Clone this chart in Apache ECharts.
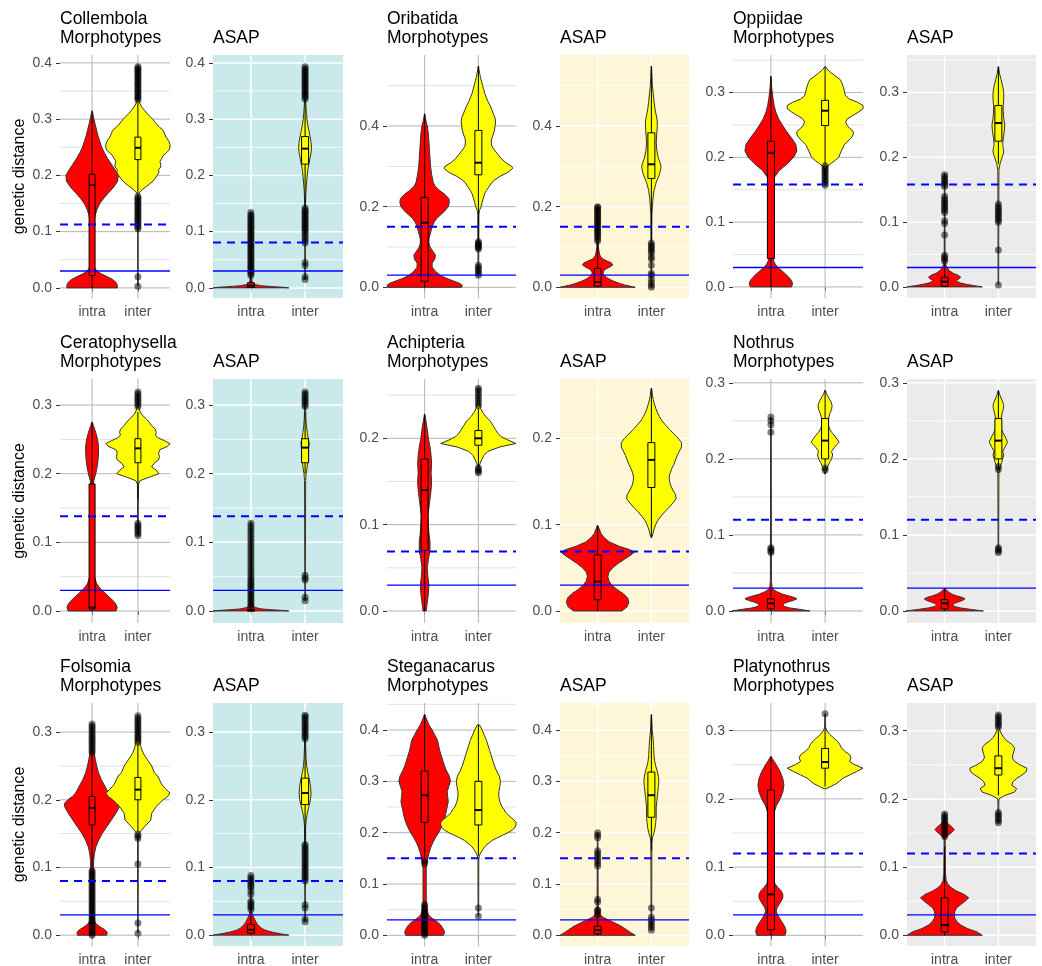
<!DOCTYPE html>
<html><head><meta charset="utf-8">
<script src="https://cdn.jsdelivr.net/npm/echarts@6/dist/echarts.min.js"></script>
<style>html,body{margin:0;padding:0;background:#fff}#c{width:1042px;height:966px}</style>
</head><body><div id="c"></div>
<script>
// ---------------- DATA ----------------
const groups = ['intra', 'inter'];
const taxa = ['Collembola','Oribatida','Oppiidae','Ceratophysella','Achipteria','Nothrus','Folsomia','Steganacarus','Platynothrus'];
const methods = ['Morphotypes', 'ASAP'];
const solidThreshold = 0.03;
// dashed threshold per panel (Morphotypes, ASAP) in taxa order
const dashedThresholds = [0.1125,0.0805, 0.15,0.15, 0.158,0.158, 0.138,0.138, 0.069,0.069, 0.12,0.12, 0.08,0.08, 0.15,0.15, 0.12,0.12];
// y tick labels per taxon
const ticksCollembola = [0,0.1,0.2,0.3,0.4];
const ticksOribatida = [0,0.2,0.4];
const ticksOppiidae = [0,0.1,0.2,0.3];
const ticksCeratophysella = [0,0.1,0.2,0.3];
const ticksAchipteria = [0,0.1,0.2];
const ticksNothrus = [0,0.1,0.2,0.3];
const ticksFolsomia = [0,0.1,0.2,0.3];
const ticksSteganacarus = [0,0.1,0.2,0.3,0.4];
const ticksPlatynothrus = [0,0.1,0.2,0.3];

// violin profiles: [genetic distance, half width in category units]
// box stats: [lower whisker, q1, median, q3, upper whisker]
// --- Collembola Morphotypes
const collMorphIntra = [[0,0.55],[0.005,0.55],[0.01,0.52],[0.015,0.45],[0.02,0.33],[0.025,0.2],[0.03,0.11],[0.035,0.06],[0.045,0.035],[0.06,0.03],[0.08,0.03],[0.1,0.035],[0.12,0.05],[0.13,0.07],[0.14,0.11],[0.15,0.17],[0.16,0.26],[0.17,0.37],[0.18,0.48],[0.19,0.56],[0.2,0.57],[0.21,0.5],[0.22,0.42],[0.23,0.34],[0.24,0.27],[0.25,0.21],[0.26,0.17],[0.27,0.13],[0.28,0.1],[0.29,0.07],[0.3,0.04],[0.31,0.015],[0.315,0.003]];
const collMorphInter = [[0.003,0.006],[0.165,0.006],[0.17,0.04],[0.175,0.1],[0.18,0.18],[0.185,0.26],[0.19,0.33],[0.195,0.38],[0.2,0.42],[0.205,0.46],[0.21,0.45],[0.215,0.5],[0.22,0.5],[0.225,0.48],[0.23,0.52],[0.235,0.55],[0.24,0.62],[0.245,0.68],[0.25,0.7],[0.255,0.7],[0.26,0.68],[0.265,0.64],[0.27,0.6],[0.275,0.58],[0.28,0.55],[0.285,0.48],[0.29,0.42],[0.295,0.37],[0.3,0.32],[0.305,0.26],[0.31,0.2],[0.315,0.15],[0.32,0.1],[0.325,0.06],[0.33,0.03],[0.335,0.01],[0.393,0.005]];
const collMorphBox = [[0,0.022,0.183,0.202,0.313],[0.168,0.228,0.249,0.268,0.328]];
const collMorphOutIntra = [];
const collMorphOutInter = [0.003,0.02,0.105,0.108,0.112,0.115,0.118,0.121,0.124,0.127,0.13,0.133,0.136,0.139,0.142,0.145,0.148,0.151,0.154,0.157,0.16,0.163,0.334,0.337,0.34,0.343,0.346,0.349,0.352,0.355,0.358,0.361,0.364,0.367,0.37,0.373,0.376,0.379,0.382,0.385,0.388,0.391,0.393];
// --- Collembola ASAP
const collAsapIntra = [[0,0.7],[0.001,0.6],[0.002,0.45],[0.003,0.3],[0.004,0.18],[0.006,0.08],[0.008,0.04],[0.012,0.02],[0.02,0.01],[0.135,0.005]];
const collAsapInter = [[0.015,0.006],[0.15,0.008],[0.17,0.015],[0.19,0.03],[0.21,0.05],[0.22,0.07],[0.23,0.09],[0.24,0.11],[0.25,0.12],[0.26,0.11],[0.27,0.09],[0.28,0.07],[0.29,0.05],[0.3,0.035],[0.31,0.025],[0.32,0.018],[0.33,0.012],[0.35,0.008],[0.393,0.005]];
const collAsapBox = [[0,0.001,0.004,0.009,0.02],[0.145,0.22,0.2475,0.269,0.333]];
const collAsapOutIntra = [0.022,0.025,0.028,0.031,0.034,0.037,0.04,0.043,0.046,0.049,0.052,0.055,0.058,0.061,0.064,0.067,0.07,0.073,0.076,0.079,0.082,0.085,0.088,0.091,0.094,0.097,0.1,0.103,0.106,0.109,0.112,0.115,0.118,0.121,0.124,0.127,0.13,0.134];
const collAsapOutInter = [0.015,0.02,0.04,0.045,0.08,0.084,0.088,0.092,0.096,0.1,0.103,0.106,0.109,0.112,0.115,0.118,0.121,0.124,0.127,0.13,0.133,0.136,0.139,0.142,0.336,0.339,0.342,0.345,0.348,0.351,0.354,0.357,0.36,0.363,0.366,0.369,0.372,0.375,0.378,0.381,0.384,0.387,0.39,0.393];
// --- Oribatida Morphotypes
const oribMorphIntra = [[0,0.69],[0.005,0.7],[0.01,0.65],[0.015,0.55],[0.02,0.45],[0.025,0.36],[0.03,0.29],[0.04,0.2],[0.05,0.14],[0.06,0.14],[0.07,0.19],[0.08,0.2],[0.09,0.15],[0.1,0.1],[0.11,0.08],[0.12,0.08],[0.13,0.1],[0.14,0.12],[0.15,0.14],[0.16,0.17],[0.17,0.22],[0.18,0.3],[0.19,0.38],[0.2,0.44],[0.21,0.46],[0.22,0.45],[0.23,0.38],[0.24,0.28],[0.25,0.2],[0.26,0.16],[0.28,0.13],[0.3,0.11],[0.34,0.09],[0.38,0.07],[0.4,0.05],[0.41,0.03],[0.42,0.015],[0.43,0.004]];
const oribMorphInter = [[0.03,0.006],[0.18,0.01],[0.19,0.02],[0.2,0.05],[0.21,0.07],[0.22,0.09],[0.233,0.12],[0.24,0.15],[0.25,0.2],[0.26,0.25],[0.266,0.3],[0.275,0.4],[0.285,0.55],[0.295,0.64],[0.3,0.62],[0.31,0.5],[0.32,0.42],[0.33,0.36],[0.34,0.3],[0.35,0.25],[0.36,0.24],[0.37,0.25],[0.38,0.28],[0.39,0.3],[0.4,0.31],[0.41,0.32],[0.42,0.31],[0.43,0.28],[0.44,0.25],[0.45,0.22],[0.46,0.18],[0.47,0.15],[0.48,0.12],[0.49,0.1],[0.5,0.08],[0.51,0.06],[0.52,0.04],[0.53,0.025],[0.54,0.012],[0.548,0.004]];
const oribMorphBox = [[0,0.015,0.16,0.223,0.43],[0.115,0.279,0.309,0.389,0.548]];
const oribMorphOutIntra = [];
const oribMorphOutInter = [0.03,0.035,0.04,0.045,0.05,0.055,0.095,0.098,0.101,0.104,0.107,0.11,0.113];
// --- Oribatida ASAP
const oribAsapIntra = [[0,0.7],[0.003,0.6],[0.006,0.5],[0.01,0.4],[0.015,0.3],[0.02,0.22],[0.025,0.16],[0.03,0.12],[0.035,0.1],[0.04,0.11],[0.045,0.15],[0.05,0.22],[0.055,0.28],[0.06,0.26],[0.065,0.18],[0.07,0.1],[0.075,0.06],[0.08,0.04],[0.09,0.025],[0.1,0.015],[0.12,0.01],[0.2,0.005]];
const oribAsapInter = [[0,0.005],[0.18,0.01],[0.2,0.02],[0.22,0.03],[0.24,0.05],[0.26,0.09],[0.27,0.12],[0.28,0.15],[0.29,0.17],[0.3,0.18],[0.31,0.16],[0.32,0.13],[0.34,0.1],[0.36,0.09],[0.38,0.1],[0.4,0.11],[0.41,0.11],[0.42,0.1],[0.44,0.07],[0.46,0.05],[0.48,0.035],[0.5,0.02],[0.52,0.012],[0.548,0.004]];
const oribAsapBox = [[0,0.003,0.013,0.047,0.11],[0.115,0.27,0.305,0.383,0.548]];
const oribAsapOutIntra = [0.115,0.12,0.125,0.13,0.134,0.138,0.142,0.146,0.15,0.154,0.158,0.162,0.166,0.17,0.174,0.178,0.182,0.186,0.19,0.194,0.198,0.2];
const oribAsapOutInter = [0,0.005,0.012,0.02,0.03,0.035,0.055,0.07,0.075,0.085,0.09,0.095,0.1,0.105,0.11];
// --- Oppiidae Morphotypes
const oppMorphIntra = [[0,0.38],[0.005,0.4],[0.01,0.38],[0.015,0.33],[0.02,0.27],[0.025,0.2],[0.03,0.13],[0.035,0.08],[0.04,0.05],[0.05,0.025],[0.07,0.015],[0.15,0.015],[0.16,0.03],[0.17,0.07],[0.18,0.16],[0.19,0.3],[0.2,0.42],[0.21,0.48],[0.22,0.46],[0.23,0.38],[0.24,0.29],[0.25,0.21],[0.26,0.14],[0.27,0.09],[0.28,0.06],[0.29,0.04],[0.3,0.025],[0.31,0.012],[0.325,0.004]];
const oppMorphInter = [[0.157,0.006],[0.18,0.01],[0.185,0.03],[0.19,0.1],[0.195,0.18],[0.2,0.25],[0.21,0.3],[0.22,0.36],[0.225,0.42],[0.23,0.48],[0.235,0.52],[0.24,0.52],[0.245,0.45],[0.25,0.4],[0.255,0.38],[0.26,0.42],[0.265,0.52],[0.27,0.62],[0.275,0.7],[0.28,0.7],[0.285,0.6],[0.29,0.45],[0.295,0.38],[0.3,0.36],[0.305,0.35],[0.31,0.33],[0.315,0.31],[0.32,0.28],[0.325,0.2],[0.33,0.12],[0.335,0.05],[0.34,0.005]];
const oppMorphBox = [[0,0.044,0.207,0.225,0.325],[0.19,0.249,0.272,0.288,0.34]];
const oppMorphOutIntra = [];
const oppMorphOutInter = [0.157,0.16,0.163,0.166,0.169,0.172,0.175,0.178,0.181,0.184,0.187];
// --- Oppiidae ASAP
const oppAsapIntra = [[0,0.7],[0.002,0.55],[0.004,0.4],[0.006,0.3],[0.008,0.24],[0.01,0.22],[0.012,0.26],[0.015,0.3],[0.018,0.25],[0.021,0.16],[0.025,0.09],[0.03,0.04],[0.035,0.02],[0.05,0.008],[0.175,0.005]];
const oppAsapInter = [[0.003,0.005],[0.18,0.01],[0.19,0.03],[0.2,0.07],[0.205,0.09],[0.21,0.1],[0.215,0.09],[0.22,0.08],[0.23,0.09],[0.24,0.11],[0.25,0.12],[0.26,0.1],[0.27,0.09],[0.28,0.09],[0.29,0.1],[0.3,0.1],[0.31,0.08],[0.32,0.05],[0.33,0.02],[0.34,0.004]];
const oppAsapBox = [[0,0.001,0.008,0.015,0.035],[0.19,0.225,0.253,0.28,0.34]];
const oppAsapOutIntra = [0.04,0.043,0.046,0.049,0.08,0.098,0.102,0.115,0.118,0.121,0.124,0.127,0.13,0.133,0.136,0.14,0.155,0.158,0.161,0.164,0.167,0.17,0.173];
const oppAsapOutInter = [0.003,0.057,0.1,0.103,0.106,0.109,0.112,0.115,0.118,0.121,0.124,0.128];
// --- Ceratophysella Morphotypes
const ceraMorphIntra = [[0,0.52],[0.005,0.55],[0.01,0.52],[0.015,0.46],[0.02,0.38],[0.025,0.3],[0.03,0.22],[0.035,0.15],[0.04,0.1],[0.05,0.05],[0.06,0.03],[0.08,0.025],[0.18,0.025],[0.19,0.04],[0.2,0.08],[0.21,0.11],[0.22,0.13],[0.23,0.14],[0.24,0.14],[0.25,0.12],[0.26,0.08],[0.27,0.03],[0.275,0.005]];
const ceraMorphInter = [[0.11,0.006],[0.185,0.01],[0.19,0.05],[0.195,0.25],[0.2,0.46],[0.205,0.4],[0.21,0.3],[0.215,0.35],[0.22,0.45],[0.225,0.47],[0.23,0.45],[0.235,0.48],[0.24,0.65],[0.244,0.7],[0.248,0.58],[0.252,0.45],[0.256,0.38],[0.26,0.4],[0.265,0.38],[0.27,0.3],[0.275,0.25],[0.28,0.18],[0.285,0.1],[0.29,0.05],[0.295,0.025],[0.3,0.012],[0.32,0.004]];
const ceraMorphBox = [[0,0.003,0.005,0.185,0.275],[0.163,0.216,0.237,0.251,0.29]];
const ceraMorphOutIntra = [];
const ceraMorphOutInter = [0.11,0.113,0.116,0.119,0.122,0.125,0.128,0.298,0.301,0.304,0.307,0.31,0.313,0.316,0.319];
// --- Ceratophysella ASAP
const ceraAsapIntra = [[0,0.7],[0.001,0.55],[0.002,0.35],[0.003,0.2],[0.005,0.08],[0.008,0.03],[0.012,0.015],[0.13,0.005]];
const ceraAsapInter = [[0.015,0.005],[0.19,0.01],[0.2,0.02],[0.21,0.04],[0.22,0.055],[0.23,0.06],[0.24,0.07],[0.245,0.075],[0.25,0.06],[0.26,0.04],[0.27,0.025],[0.28,0.015],[0.3,0.008],[0.32,0.004]];
const ceraAsapBox = [[0,0,0.001,0.002,0.005],[0.2,0.216,0.238,0.251,0.29]];
const ceraAsapOutIntra = [0.006,0.009,0.012,0.015,0.018,0.021,0.024,0.027,0.03,0.033,0.036,0.039,0.042,0.045,0.048,0.052,0.056,0.06,0.064,0.068,0.072,0.076,0.08,0.084,0.088,0.092,0.096,0.1,0.104,0.108,0.112,0.116,0.12,0.124,0.128];
const ceraAsapOutInter = [0.015,0.02,0.045,0.048,0.052,0.298,0.301,0.304,0.307,0.31,0.313,0.316,0.319];
// --- Achipteria Morphotypes
const achiMorphIntra = [[0,0.03],[0.005,0.04],[0.01,0.05],[0.02,0.07],[0.03,0.08],[0.04,0.06],[0.05,0.05],[0.06,0.07],[0.07,0.1],[0.08,0.1],[0.09,0.08],[0.1,0.07],[0.11,0.06],[0.12,0.08],[0.13,0.1],[0.14,0.12],[0.15,0.13],[0.16,0.12],[0.17,0.13],[0.18,0.12],[0.19,0.1],[0.2,0.07],[0.21,0.05],[0.22,0.025],[0.228,0.004]];
const achiMorphInter = [[0.16,0.006],[0.165,0.01],[0.17,0.025],[0.175,0.06],[0.18,0.1],[0.185,0.18],[0.19,0.4],[0.194,0.7],[0.198,0.55],[0.202,0.42],[0.206,0.36],[0.21,0.32],[0.215,0.27],[0.22,0.22],[0.225,0.14],[0.23,0.08],[0.235,0.04],[0.24,0.02],[0.258,0.005]];
const achiMorphBox = [[0,0.07,0.14,0.176,0.228],[0.168,0.192,0.2,0.209,0.235]];
const achiMorphOutIntra = [];
const achiMorphOutInter = [0.16,0.162,0.164,0.166,0.238,0.241,0.244,0.247,0.25,0.253,0.256,0.258];
// --- Achipteria ASAP
const achiAsapIntra = [[0,0.45],[0.005,0.55],[0.01,0.58],[0.015,0.56],[0.02,0.48],[0.025,0.36],[0.03,0.26],[0.035,0.21],[0.04,0.19],[0.045,0.21],[0.05,0.28],[0.055,0.38],[0.06,0.5],[0.065,0.62],[0.068,0.68],[0.071,0.6],[0.075,0.4],[0.08,0.22],[0.085,0.12],[0.09,0.06],[0.095,0.03],[0.099,0.005]];
const achiAsapInter = [[0.085,0.005],[0.09,0.03],[0.095,0.05],[0.1,0.08],[0.105,0.12],[0.11,0.18],[0.115,0.25],[0.12,0.33],[0.125,0.4],[0.13,0.46],[0.135,0.45],[0.14,0.4],[0.145,0.36],[0.15,0.34],[0.155,0.33],[0.16,0.35],[0.165,0.38],[0.17,0.42],[0.175,0.45],[0.18,0.48],[0.185,0.52],[0.19,0.56],[0.195,0.56],[0.2,0.5],[0.205,0.42],[0.21,0.34],[0.215,0.27],[0.22,0.2],[0.225,0.15],[0.23,0.11],[0.235,0.08],[0.24,0.055],[0.245,0.035],[0.25,0.02],[0.258,0.004]];
const achiAsapBox = [[0,0.013,0.034,0.065,0.099],[0.085,0.143,0.175,0.195,0.258]];
const achiAsapOutIntra = [];
const achiAsapOutInter = [];
// --- Nothrus Morphotypes
const nothMorphIntra = [[0,0.72],[0.002,0.55],[0.004,0.35],[0.006,0.25],[0.008,0.22],[0.01,0.25],[0.012,0.32],[0.014,0.42],[0.016,0.48],[0.018,0.42],[0.02,0.32],[0.022,0.22],[0.025,0.12],[0.028,0.05],[0.032,0.02],[0.04,0.01],[0.255,0.005]];
const nothMorphInter = [[0.18,0.006],[0.185,0.02],[0.19,0.05],[0.195,0.08],[0.2,0.12],[0.205,0.14],[0.21,0.12],[0.215,0.17],[0.222,0.26],[0.23,0.18],[0.235,0.12],[0.24,0.08],[0.245,0.06],[0.25,0.06],[0.255,0.07],[0.26,0.09],[0.265,0.12],[0.27,0.13],[0.275,0.11],[0.28,0.07],[0.285,0.03],[0.29,0.005]];
const nothMorphBox = [[0,0.003,0.01,0.016,0.03],[0.185,0.2,0.224,0.253,0.29]];
const nothMorphOutIntra = [0.077,0.079,0.081,0.083,0.235,0.245,0.25,0.255];
const nothMorphOutInter = [0.185,0.188];
// --- Nothrus ASAP
const nothAsapIntra = [[0,0.72],[0.002,0.5],[0.004,0.3],[0.006,0.18],[0.008,0.15],[0.01,0.18],[0.012,0.26],[0.014,0.34],[0.016,0.38],[0.018,0.32],[0.02,0.22],[0.022,0.14],[0.025,0.07],[0.028,0.03],[0.03,0.005]];
const nothAsapInter = [[0.077,0.005],[0.18,0.01],[0.19,0.03],[0.195,0.06],[0.2,0.08],[0.205,0.1],[0.21,0.08],[0.215,0.12],[0.222,0.17],[0.23,0.12],[0.235,0.08],[0.24,0.05],[0.245,0.04],[0.25,0.045],[0.26,0.07],[0.265,0.09],[0.27,0.1],[0.275,0.08],[0.28,0.05],[0.285,0.02],[0.29,0.004]];
const nothAsapBox = [[0,0.003,0.01,0.015,0.03],[0.185,0.2,0.224,0.253,0.29]];
const nothAsapOutIntra = [];
const nothAsapOutInter = [0.077,0.079,0.081,0.083,0.186,0.19];
// --- Folsomia Morphotypes
const folsMorphIntra = [[0,0.32],[0.004,0.33],[0.008,0.28],[0.012,0.18],[0.016,0.1],[0.02,0.06],[0.03,0.035],[0.05,0.03],[0.1,0.03],[0.11,0.035],[0.12,0.05],[0.13,0.08],[0.14,0.14],[0.15,0.22],[0.16,0.32],[0.17,0.42],[0.18,0.52],[0.19,0.6],[0.195,0.6],[0.2,0.53],[0.205,0.43],[0.21,0.36],[0.22,0.28],[0.23,0.2],[0.24,0.14],[0.25,0.1],[0.26,0.07],[0.268,0.05],[0.275,0.02],[0.313,0.004]];
const folsMorphInter = [[0.003,0.005],[0.14,0.008],[0.15,0.02],[0.155,0.08],[0.16,0.14],[0.17,0.28],[0.18,0.3],[0.19,0.4],[0.195,0.47],[0.2,0.55],[0.205,0.65],[0.21,0.7],[0.215,0.62],[0.22,0.55],[0.225,0.5],[0.23,0.47],[0.235,0.43],[0.24,0.36],[0.25,0.3],[0.26,0.2],[0.265,0.15],[0.27,0.11],[0.275,0.08],[0.28,0.06],[0.285,0.045],[0.29,0.03],[0.3,0.015],[0.325,0.004]];
const folsMorphBox = [[0.1,0.163,0.188,0.205,0.268],[0.152,0.2,0.215,0.233,0.283]];
const folsMorphOutIntra = [0,0.003,0.006,0.009,0.012,0.015,0.018,0.021,0.024,0.027,0.03,0.033,0.036,0.039,0.042,0.045,0.048,0.051,0.054,0.057,0.06,0.063,0.066,0.069,0.072,0.075,0.078,0.081,0.084,0.087,0.09,0.093,0.095,0.27,0.273,0.276,0.279,0.282,0.285,0.288,0.291,0.294,0.297,0.3,0.303,0.306,0.309,0.312];
const folsMorphOutInter = [0.003,0.018,0.105,0.143,0.146,0.149,0.285,0.288,0.291,0.294,0.297,0.3,0.303,0.306,0.309,0.312,0.315,0.318,0.321,0.324];
// --- Folsomia ASAP
const folsAsapIntra = [[0,0.7],[0.002,0.55],[0.004,0.42],[0.006,0.32],[0.008,0.25],[0.01,0.2],[0.013,0.16],[0.016,0.12],[0.02,0.09],[0.025,0.06],[0.03,0.03],[0.035,0.012],[0.088,0.004]];
const folsAsapInter = [[0.02,0.005],[0.16,0.01],[0.17,0.02],[0.18,0.04],[0.19,0.07],[0.2,0.1],[0.21,0.11],[0.22,0.1],[0.23,0.08],[0.24,0.05],[0.25,0.03],[0.26,0.02],[0.28,0.01],[0.325,0.004]];
const folsAsapBox = [[0,0.003,0.008,0.016,0.035],[0.135,0.193,0.21,0.232,0.29]];
const folsAsapOutIntra = [0.038,0.041,0.044,0.047,0.05,0.06,0.065,0.07,0.073,0.076,0.079,0.082,0.085,0.088];
const folsAsapOutInter = [0.02,0.024,0.04,0.045,0.08,0.083,0.086,0.089,0.092,0.095,0.098,0.101,0.104,0.107,0.11,0.113,0.116,0.119,0.122,0.125,0.128,0.131,0.134,0.29,0.293,0.296,0.299,0.302,0.305,0.308,0.311,0.314,0.317,0.32,0.323,0.325];
// --- Steganacarus Morphotypes
const stegMorphIntra = [[0,0.35],[0.005,0.37],[0.01,0.36],[0.015,0.33],[0.02,0.3],[0.025,0.25],[0.03,0.18],[0.035,0.12],[0.04,0.07],[0.05,0.04],[0.06,0.03],[0.13,0.03],[0.14,0.04],[0.15,0.06],[0.16,0.08],[0.17,0.11],[0.18,0.15],[0.19,0.2],[0.2,0.26],[0.21,0.31],[0.22,0.35],[0.23,0.38],[0.24,0.4],[0.25,0.42],[0.26,0.44],[0.27,0.43],[0.28,0.42],[0.29,0.45],[0.3,0.48],[0.31,0.46],[0.32,0.41],[0.33,0.37],[0.34,0.34],[0.35,0.31],[0.36,0.28],[0.37,0.26],[0.38,0.24],[0.39,0.19],[0.4,0.14],[0.41,0.08],[0.42,0.04],[0.43,0.005]];
const stegMorphInter = [[0.037,0.005],[0.15,0.008],[0.155,0.02],[0.16,0.04],[0.165,0.07],[0.17,0.1],[0.175,0.14],[0.18,0.2],[0.185,0.26],[0.19,0.35],[0.195,0.45],[0.2,0.55],[0.205,0.63],[0.21,0.68],[0.215,0.7],[0.22,0.7],[0.225,0.66],[0.23,0.6],[0.235,0.55],[0.24,0.5],[0.245,0.48],[0.25,0.44],[0.26,0.4],[0.27,0.38],[0.28,0.38],[0.29,0.4],[0.3,0.41],[0.31,0.39],[0.32,0.34],[0.33,0.3],[0.34,0.27],[0.35,0.24],[0.36,0.21],[0.37,0.18],[0.38,0.15],[0.39,0.11],[0.4,0.07],[0.41,0.02]];
const stegMorphBox = [[0.15,0.22,0.273,0.32,0.43],[0.155,0.215,0.244,0.3,0.41]];
const stegMorphOutIntra = [0,0.003,0.006,0.009,0.012,0.015,0.018,0.021,0.024,0.027,0.03,0.033,0.036,0.039,0.042,0.045,0.048,0.052,0.056,0.06,0.14,0.145];
const stegMorphOutInter = [0.037,0.053];
// --- Steganacarus ASAP
const stegAsapIntra = [[0,0.7],[0.005,0.62],[0.01,0.55],[0.015,0.48],[0.02,0.4],[0.025,0.3],[0.03,0.2],[0.035,0.1],[0.04,0.05],[0.045,0.02],[0.05,0.01],[0.2,0.005]];
const stegAsapInter = [[0.01,0.005],[0.18,0.01],[0.19,0.02],[0.2,0.05],[0.21,0.07],[0.22,0.08],[0.23,0.09],[0.24,0.09],[0.25,0.09],[0.26,0.1],[0.27,0.11],[0.28,0.12],[0.29,0.13],[0.3,0.14],[0.31,0.13],[0.32,0.11],[0.33,0.08],[0.34,0.06],[0.35,0.05],[0.36,0.045],[0.37,0.04],[0.38,0.035],[0.39,0.025],[0.4,0.015],[0.43,0.004]];
const stegAsapBox = [[0,0.003,0.01,0.018,0.04],[0.165,0.23,0.273,0.318,0.43]];
const stegAsapOutIntra = [0.04,0.045,0.048,0.05,0.065,0.07,0.135,0.14,0.145,0.15,0.155,0.16,0.165,0.19,0.195,0.2];
const stegAsapOutInter = [0.01,0.015,0.02,0.025,0.03,0.035,0.053];
// --- Platynothrus Morphotypes
const platMorphIntra = [[0,0.26],[0.005,0.28],[0.01,0.27],[0.015,0.24],[0.02,0.2],[0.025,0.16],[0.03,0.12],[0.035,0.1],[0.04,0.11],[0.045,0.15],[0.05,0.19],[0.055,0.22],[0.06,0.22],[0.065,0.19],[0.07,0.13],[0.075,0.08],[0.08,0.05],[0.09,0.03],[0.1,0.02],[0.12,0.02],[0.14,0.025],[0.16,0.03],[0.17,0.04],[0.18,0.06],[0.19,0.1],[0.2,0.17],[0.21,0.22],[0.22,0.24],[0.23,0.22],[0.24,0.17],[0.25,0.1],[0.255,0.06],[0.26,0.02],[0.262,0.004]];
const platMorphInter = [[0.215,0.02],[0.218,0.1],[0.222,0.2],[0.226,0.27],[0.23,0.32],[0.235,0.45],[0.24,0.58],[0.245,0.7],[0.25,0.55],[0.255,0.45],[0.26,0.48],[0.265,0.45],[0.27,0.36],[0.275,0.3],[0.28,0.27],[0.285,0.22],[0.29,0.15],[0.295,0.08],[0.3,0.03],[0.305,0.01],[0.325,0.004]];
const platMorphBox = [[0,0.008,0.06,0.213,0.262],[0.218,0.245,0.254,0.274,0.305]];
const platMorphOutIntra = [];
const platMorphOutInter = [0.325];
// --- Platynothrus ASAP
const platAsapIntra = [[0,0.7],[0.005,0.6],[0.01,0.42],[0.015,0.3],[0.02,0.23],[0.025,0.19],[0.03,0.18],[0.035,0.19],[0.04,0.22],[0.045,0.3],[0.05,0.38],[0.055,0.45],[0.06,0.36],[0.065,0.22],[0.07,0.12],[0.075,0.06],[0.08,0.03],[0.09,0.015],[0.14,0.01],[0.145,0.04],[0.15,0.12],[0.155,0.18],[0.16,0.12],[0.165,0.04],[0.17,0.015],[0.18,0.004]];
const platAsapInter = [[0.165,0.004],[0.2,0.01],[0.205,0.12],[0.21,0.3],[0.215,0.34],[0.22,0.25],[0.225,0.27],[0.23,0.34],[0.235,0.44],[0.24,0.52],[0.245,0.53],[0.25,0.4],[0.255,0.3],[0.26,0.26],[0.265,0.27],[0.27,0.29],[0.275,0.3],[0.28,0.25],[0.285,0.16],[0.29,0.1],[0.295,0.06],[0.3,0.03],[0.305,0.01],[0.325,0.004]];
const platAsapBox = [[0,0.005,0.015,0.055,0.13],[0.205,0.235,0.245,0.263,0.3]];
const platAsapOutIntra = [0.145,0.148,0.151,0.154,0.157,0.16,0.163,0.166,0.169,0.172,0.175,0.178];
const platAsapOutInter = [0.165,0.168,0.171,0.174,0.177,0.18,0.305,0.308,0.311,0.314,0.317,0.32,0.323];

// ---------------- PANEL TABLE (built from the arrays) ----------------
const panels = [
  {v:[collMorphIntra,collMorphInter], b:collMorphBox, o:[collMorphOutIntra,collMorphOutInter], t:ticksCollembola},
  {v:[collAsapIntra,collAsapInter], b:collAsapBox, o:[collAsapOutIntra,collAsapOutInter], t:ticksCollembola},
  {v:[oribMorphIntra,oribMorphInter], b:oribMorphBox, o:[oribMorphOutIntra,oribMorphOutInter], t:ticksOribatida},
  {v:[oribAsapIntra,oribAsapInter], b:oribAsapBox, o:[oribAsapOutIntra,oribAsapOutInter], t:ticksOribatida},
  {v:[oppMorphIntra,oppMorphInter], b:oppMorphBox, o:[oppMorphOutIntra,oppMorphOutInter], t:ticksOppiidae},
  {v:[oppAsapIntra,oppAsapInter], b:oppAsapBox, o:[oppAsapOutIntra,oppAsapOutInter], t:ticksOppiidae},
  {v:[ceraMorphIntra,ceraMorphInter], b:ceraMorphBox, o:[ceraMorphOutIntra,ceraMorphOutInter], t:ticksCeratophysella},
  {v:[ceraAsapIntra,ceraAsapInter], b:ceraAsapBox, o:[ceraAsapOutIntra,ceraAsapOutInter], t:ticksCeratophysella},
  {v:[achiMorphIntra,achiMorphInter], b:achiMorphBox, o:[achiMorphOutIntra,achiMorphOutInter], t:ticksAchipteria},
  {v:[achiAsapIntra,achiAsapInter], b:achiAsapBox, o:[achiAsapOutIntra,achiAsapOutInter], t:ticksAchipteria},
  {v:[nothMorphIntra,nothMorphInter], b:nothMorphBox, o:[nothMorphOutIntra,nothMorphOutInter], t:ticksNothrus},
  {v:[nothAsapIntra,nothAsapInter], b:nothAsapBox, o:[nothAsapOutIntra,nothAsapOutInter], t:ticksNothrus},
  {v:[folsMorphIntra,folsMorphInter], b:folsMorphBox, o:[folsMorphOutIntra,folsMorphOutInter], t:ticksFolsomia},
  {v:[folsAsapIntra,folsAsapInter], b:folsAsapBox, o:[folsAsapOutIntra,folsAsapOutInter], t:ticksFolsomia},
  {v:[stegMorphIntra,stegMorphInter], b:stegMorphBox, o:[stegMorphOutIntra,stegMorphOutInter], t:ticksSteganacarus},
  {v:[stegAsapIntra,stegAsapInter], b:stegAsapBox, o:[stegAsapOutIntra,stegAsapOutInter], t:ticksSteganacarus},
  {v:[platMorphIntra,platMorphInter], b:platMorphBox, o:[platMorphOutIntra,platMorphOutInter], t:ticksPlatynothrus},
  {v:[platAsapIntra,platAsapInter], b:platAsapBox, o:[platAsapOutIntra,platAsapOutInter], t:ticksPlatynothrus}
];

// ---------------- LAYOUT / STYLE ----------------
const FONT = '"Liberation Sans", Arial, Helvetica, sans-serif';
const colX = [[60,170],[213,343],[387,516],[560,689],[733,863],[907,1036]];
const rowY = [[55,298],[379,623],[703,946]];
// y scale range per taxon (data range + 5% expansion)
const yRange = [[-0.018,0.414],[-0.0265,0.576],[-0.0171,0.358],[-0.0175,0.338],[-0.0139,0.2687],[-0.0158,0.305],[-0.016,0.343],[-0.0208,0.4526],[-0.0157,0.3406]];
const asapBg = ['#C9E9EA', '#FFF5D7', '#EBEBEB'];
const fills = ['#FF0000', '#FFFF00'];
const XMIN = 0.3, XMAX = 2.7;

const grid = [], xAxis = [], yAxis = [], series = [], graphic = [];

panels.forEach((p, i) => {
  const r = Math.floor(i / 6), c = i % 6, taxon = r * 3 + Math.floor(c / 2), isAsap = c % 2 === 1;
  const [x0, x1] = colX[c], [y0, y1] = rowY[r];
  const [ymin, ymax] = yRange[taxon];
  const bg = isAsap ? asapBg[Math.floor(c / 2)] : '#FFFFFF';
  const majorColor = isAsap ? '#FFFFFF' : '#B5B5B5';
  const minorColor = isAsap ? '#FFFFFF' : '#E2E2E2';
  grid.push({left: x0, top: y0, width: x1 - x0, height: y1 - y0, show: true, backgroundColor: bg, borderWidth: 0, outerBoundsMode: 'none', containLabel: false});
  xAxis.push({gridIndex: i, type: 'value', min: XMIN, max: XMAX,
    axisLine: {show: false}, splitLine: {show: false},
    axisTick: {show: true, customValues: [1, 2], length: 4, lineStyle: {color: '#333333', width: 1}},
    axisLabel: {customValues: [1, 2], formatter: v => groups[Math.round(v) - 1], color: '#4D4D4D', fontSize: 14, margin: 7, fontFamily: FONT}});
  yAxis.push({gridIndex: i, type: 'value', min: ymin, max: ymax,
    axisLine: {show: false}, splitLine: {show: false},
    axisTick: {show: true, customValues: p.t, length: 4, lineStyle: {color: '#333333', width: 1}},
    axisLabel: {customValues: p.t, formatter: v => v.toFixed(1), color: '#4D4D4D', fontSize: 14, margin: 8, fontFamily: FONT}});

  const step = p.t[1] - p.t[0];
  const minor = [];
  for (let k = 0; k <= p.t.length; k++) { const v = p.t[0] + step * (k + 0.5); if (v < ymax) minor.push(v); }

  // grid lines
  series.push({type: 'custom', xAxisIndex: i, yAxisIndex: i, z: 1, silent: true, data: [[1, 0]],
    renderItem: (params, api) => {
      const ch = [];
      const hl = (v, col, w) => { const a = api.coord([XMIN, v]), b = api.coord([XMAX, v]);
        ch.push({type: 'line', shape: {x1: a[0], y1: a[1], x2: b[0], y2: b[1]}, style: {stroke: col, lineWidth: w}}); };
      minor.forEach(v => hl(v, minorColor, isAsap ? 0.8 : 1));
      p.t.forEach(v => hl(v, majorColor, isAsap ? 1.5 : 1));
      [1, 2].forEach(x => { const a = api.coord([x, ymin]), b = api.coord([x, ymax]);
        ch.push({type: 'line', shape: {x1: a[0], y1: a[1], x2: b[0], y2: b[1]}, style: {stroke: majorColor, lineWidth: isAsap ? 1.5 : 1}}); });
      return {type: 'group', children: ch};
    }});

  // violins
  series.push({type: 'custom', xAxisIndex: i, yAxisIndex: i, z: 2, silent: true,
    data: [[1, p.b[0][2]], [2, p.b[1][2]]],
    renderItem: (params, api) => {
      const k = params.dataIndex, cx = api.value(0), prof = p.v[k];
      const right = prof.map(([y, w]) => api.coord([cx + w, y]));
      const left = prof.slice().reverse().map(([y, w]) => api.coord([cx - w, y]));
      return {type: 'polygon', shape: {points: right.concat(left)}, style: {fill: fills[k], stroke: '#333333', lineWidth: 1}};
    }});

  // boxplots
  series.push({type: 'custom', xAxisIndex: i, yAxisIndex: i, z: 3, silent: true,
    data: p.b.map((b, k) => [k + 1].concat(b)),
    renderItem: (params, api) => {
      const k = params.dataIndex, cx = api.value(0), hw = 0.065;
      const lo = api.value(1), q1 = api.value(2), md = api.value(3), q3 = api.value(4), hi = api.value(5);
      const pLo = api.coord([cx, lo]), pQ1 = api.coord([cx, q1]), pQ3 = api.coord([cx, q3]), pHi = api.coord([cx, hi]);
      const bl = api.coord([cx - hw, q3]), br = api.coord([cx + hw, q1]);
      const m1 = api.coord([cx - hw, md]), m2 = api.coord([cx + hw, md]);
      return {type: 'group', children: [
        {type: 'line', shape: {x1: pLo[0], y1: pLo[1], x2: pQ1[0], y2: pQ1[1]}, style: {stroke: '#000', lineWidth: 1}},
        {type: 'line', shape: {x1: pQ3[0], y1: pQ3[1], x2: pHi[0], y2: pHi[1]}, style: {stroke: '#000', lineWidth: 1}},
        {type: 'rect', shape: {x: bl[0], y: bl[1], width: br[0] - bl[0], height: Math.max(br[1] - bl[1], 0.5)}, style: {fill: fills[k], stroke: '#000', lineWidth: 1}},
        {type: 'line', shape: {x1: m1[0], y1: m1[1], x2: m2[0], y2: m2[1]}, style: {stroke: '#000', lineWidth: 2}}
      ]};
    }});

  // outliers
  series.push({type: 'scatter', xAxisIndex: i, yAxisIndex: i, z: 4, silent: true, symbolSize: 7,
    itemStyle: {color: '#000000', opacity: 0.5},
    data: p.o[0].map(y => [1, y]).concat(p.o[1].map(y => [2, y]))});

  // threshold lines
  const dash = dashedThresholds[i];
  series.push({type: 'custom', xAxisIndex: i, yAxisIndex: i, z: 5, silent: true, data: [[1, solidThreshold, dash]],
    renderItem: (params, api) => {
      const s1 = api.coord([XMIN, api.value(1)]), s2 = api.coord([XMAX, api.value(1)]);
      const d1 = api.coord([XMIN, api.value(2)]), d2 = api.coord([XMAX, api.value(2)]);
      return {type: 'group', children: [
        {type: 'line', shape: {x1: s1[0], y1: s1[1], x2: s2[0], y2: s2[1]}, style: {stroke: '#0000FF', lineWidth: 1.3}},
        {type: 'line', shape: {x1: d1[0], y1: d1[1], x2: d2[0], y2: d2[1]}, style: {stroke: '#0000FF', lineWidth: 2, lineDash: [8, 6]}}
      ]};
    }});

  // panel titles
  graphic.push({type: 'text', left: x0, top: isAsap ? y0 - 26 : y0 - 45,
    style: {text: isAsap ? methods[1] : taxa[taxon] + '\n' + methods[0], fill: '#000', fontSize: 17.5, lineHeight: 19, fontFamily: FONT}});
});

// y axis titles
rowY.forEach(([y0, y1]) => {
  graphic.push({type: 'text', x: 20, y: (y0 + y1) / 2, rotation: Math.PI / 2,
    style: {text: 'genetic distance', fill: '#000', fontSize: 16, fontFamily: FONT, align: 'center', verticalAlign: 'middle'}});
});

const chart = echarts.init(document.getElementById('c'), null, {renderer: 'canvas', width: 1042, height: 966});
chart.setOption({animation: false, backgroundColor: '#FFFFFF', grid, xAxis, yAxis, series, graphic});
</script>
</body></html>
